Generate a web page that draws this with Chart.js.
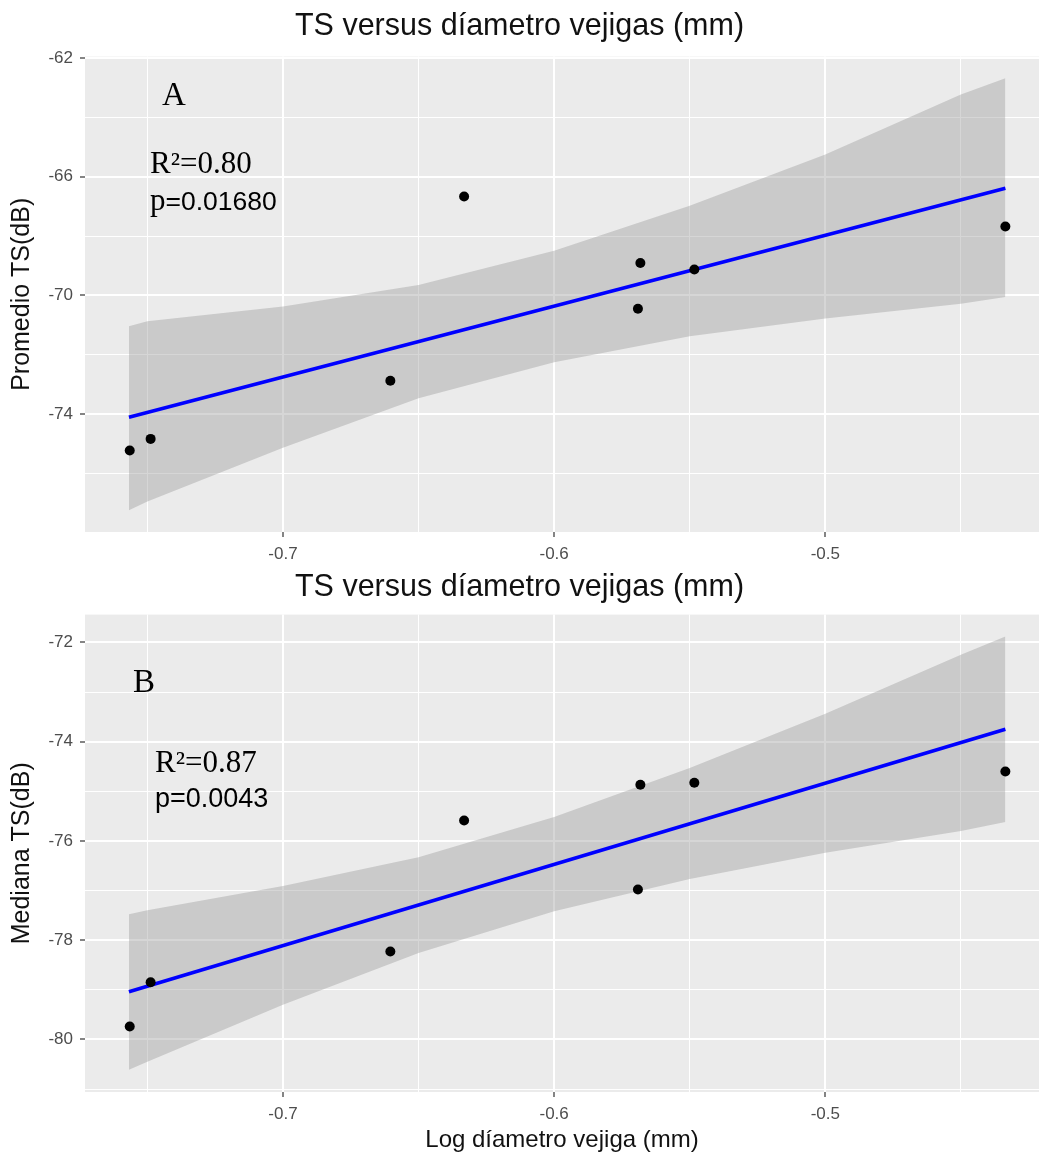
<!DOCTYPE html>
<html>
<head>
<meta charset="utf-8">
<script src="https://cdn.jsdelivr.net/npm/chart.js@4.4.1/dist/chart.umd.min.js"></script>
<style>
  body { margin: 0; background: #fff; overflow: hidden; }
  canvas { display: block; }
</style>
</head>
<body>
<canvas id="chartA" width="1039" height="565"></canvas>
<canvas id="chartB" width="1039" height="592"></canvas>
<script>
// measured points (log bladder diameter vs TS)
var logDiam    = [-0.7565, -0.7488, -0.6604, -0.6332, -0.5682, -0.5691, -0.5483, -0.4336];
var promedioTS = [-75.23, -74.84, -72.88, -66.67, -68.91, -70.45, -69.13, -67.68];
var medianaTS  = [-79.74, -78.85, -78.23, -75.59, -74.87, -76.98, -74.83, -74.60];

// fitted lines (end points)
var fitX     = [-0.7568, -0.4336];
var fitProm  = [-74.11, -66.39];
var fitMed   = [-79.04, -73.75];

// confidence band edges
var bandX       = [-0.7568, -0.75, -0.70, -0.65, -0.60, -0.55, -0.50, -0.45, -0.4336];
var bandPromUp  = [-71.04, -70.87, -70.38, -69.65, -68.50, -66.98, -65.25, -63.23, -62.68];
var bandPromLo  = [-77.25, -76.95, -75.14, -73.47, -72.26, -71.38, -70.78, -70.28, -70.06];
var bandMedUp   = [-77.48, -77.40, -76.91, -76.33, -75.52, -74.53, -73.44, -72.25, -71.88];
var bandMedLo   = [-80.61, -80.45, -79.30, -78.26, -77.42, -76.77, -76.24, -75.80, -75.62];

var xRange = [-0.773, -0.4212];

var SANS = "'Liberation Sans', Arial, sans-serif";
var SERIF = "'Liberation Serif', 'Times New Roman', serif";
Chart.defaults.font.family = SANS;

function pts(xs, ys) {
  return xs.map(function (x, i) { return { x: x, y: ys[i] }; });
}

function isMajorX(v) { return Math.abs(v * 10 - Math.round(v * 10)) < 1e-6; }

var panelBg = {
  id: 'panelBg',
  beforeDraw: function (chart) {
    var a = chart.chartArea, ctx = chart.ctx;
    ctx.save();
    ctx.fillStyle = '#EBEBEB';
    ctx.fillRect(a.left, a.top, a.right - a.left, a.bottom - a.top);
    ctx.restore();
  }
};

// text notes: each line is a list of [text, font] pieces drawn one after another
function notesPlugin(lines) {
  return {
    id: 'notes',
    afterDraw: function (chart) {
      var ctx = chart.ctx;
      ctx.save();
      ctx.fillStyle = '#000';
      ctx.textBaseline = 'alphabetic';
      lines.forEach(function (ln) {
        var x = ln.x;
        ln.parts.forEach(function (p) {
          ctx.font = p[1];
          ctx.fillText(p[0], x, ln.y);
          x += ctx.measureText(p[0]).width;
        });
      });
      ctx.restore();
    }
  };
}

function makePanel(id, o) {
  var ctx = document.getElementById(id);
  var config = {
    type: 'scatter',
    data: {
      datasets: [
        { data: pts(logDiam, o.ys), pointRadius: 5, pointBackgroundColor: '#000', pointBorderWidth: 0, showLine: false },
        { data: pts(fitX, o.fit), showLine: true, borderColor: '#0000FF', borderWidth: 3.5, pointRadius: 0, fill: false },
        { data: pts(bandX, o.up), showLine: true, borderWidth: 0, borderColor: 'rgba(0,0,0,0)', pointRadius: 0, fill: false },
        { data: pts(bandX, o.lo), showLine: true, borderWidth: 0, borderColor: 'rgba(0,0,0,0)', pointRadius: 0,
          fill: '-1', backgroundColor: 'rgba(153,153,153,0.4)' }
      ]
    },
    options: {
      responsive: false,
      animation: false,
      layout: { padding: 0, autoPadding: false },
      plugins: {
        legend: { display: false },
        tooltip: { enabled: false },
        title: {
          display: true,
          text: 'TS versus díametro vejigas (mm)',
          color: '#111',
          font: { size: 30.5, weight: 'normal' },
          padding: o.titlePad
        }
      },
      scales: {
        x: {
          type: 'linear',
          min: xRange[0], max: xRange[1],
          afterFit: function (s) { s.height = o.xHeight; },
          border: { display: false },
          grid: {
            color: '#fff',
            lineWidth: function (c) { return c.tick && isMajorX(c.tick.value) ? 2 : 1; },
            tickColor: function (c) { return c.tick && isMajorX(c.tick.value) ? '#333' : 'rgba(0,0,0,0)'; },
            tickLength: 5,
            tickWidth: 1.2
          },
          ticks: {
            stepSize: 0.05,
            includeBounds: false,
            autoSkip: false,
            maxRotation: 0,
            padding: 7,
            color: '#4D4D4D',
            font: { size: 17 },
            callback: function (v) { return isMajorX(v) ? v.toFixed(1) : ''; }
          },
          title: o.xTitle ? {
            display: true, text: o.xTitle, color: '#111',
            font: { size: 24 }, padding: { top: 0, bottom: 2 }
          } : { display: false }
        },
        y: {
          min: o.yMin, max: o.yMax,
          afterFit: function (s) { s.width = 85; },
          border: { display: false },
          grid: {
            color: '#fff',
            lineWidth: function (c) { return c.tick && o.isMajorY(c.tick.value) ? 2 : 1; },
            tickColor: function (c) { return c.tick && o.isMajorY(c.tick.value) ? '#333' : 'rgba(0,0,0,0)'; },
            tickLength: 5,
            tickWidth: 1.2
          },
          ticks: {
            stepSize: o.yStep,
            includeBounds: false,
            autoSkip: false,
            padding: 7,
            color: '#4D4D4D',
            font: { size: 17 },
            callback: function (v) { return o.isMajorY(v) ? String(v) : ''; }
          },
          title: {
            display: true, text: o.yTitle, color: '#111',
            font: { size: 25 }, padding: { top: 7, bottom: 0 }
          }
        }
      }
    },
    plugins: [panelBg, notesPlugin(o.notes)]
  };
  return new Chart(ctx, config);
}

makePanel('chartA', {
  ys: promedioTS, fit: fitProm, up: bandPromUp, lo: bandPromLo,
  yMin: -77.98, yMax: -61.95, yStep: 2,
  isMajorY: function (v) { return Math.abs((v + 62) % 4) < 1e-6; },
  yTitle: 'Promedio TS(dB)',
  xHeight: 33,
  titlePad: { top: 8, bottom: 12 },
  notes: [
    { x: 162, y: 105, parts: [['A', '33px ' + SERIF]] },
    { x: 150, y: 173, parts: [['R²=0.80', '31px ' + SERIF]] },
    { x: 150, y: 210, parts: [['p', '31px ' + SERIF], ['=0.01680', '26.5px ' + SANS]] }
  ]
});

makePanel('chartB', {
  ys: medianaTS, fit: fitMed, up: bandMedUp, lo: bandMedLo,
  yMin: -81.06, yMax: -71.44, yStep: 1,
  isMajorY: function (v) { return Math.abs(v % 2) < 1e-6; },
  yTitle: 'Mediana TS(dB)',
  xTitle: 'Log díametro vejiga (mm)',
  xHeight: 65,
  titlePad: { top: 4, bottom: 9 },
  notes: [
    { x: 133, y: 692 - 565, parts: [['B', '33px ' + SERIF]] },
    { x: 155, y: 772 - 565, parts: [['R²=0.87', '31px ' + SERIF]] },
    { x: 155, y: 807 - 565, parts: [['p=0.0043', '27px ' + SANS]] }
  ]
});
</script>
</body>
</html>
